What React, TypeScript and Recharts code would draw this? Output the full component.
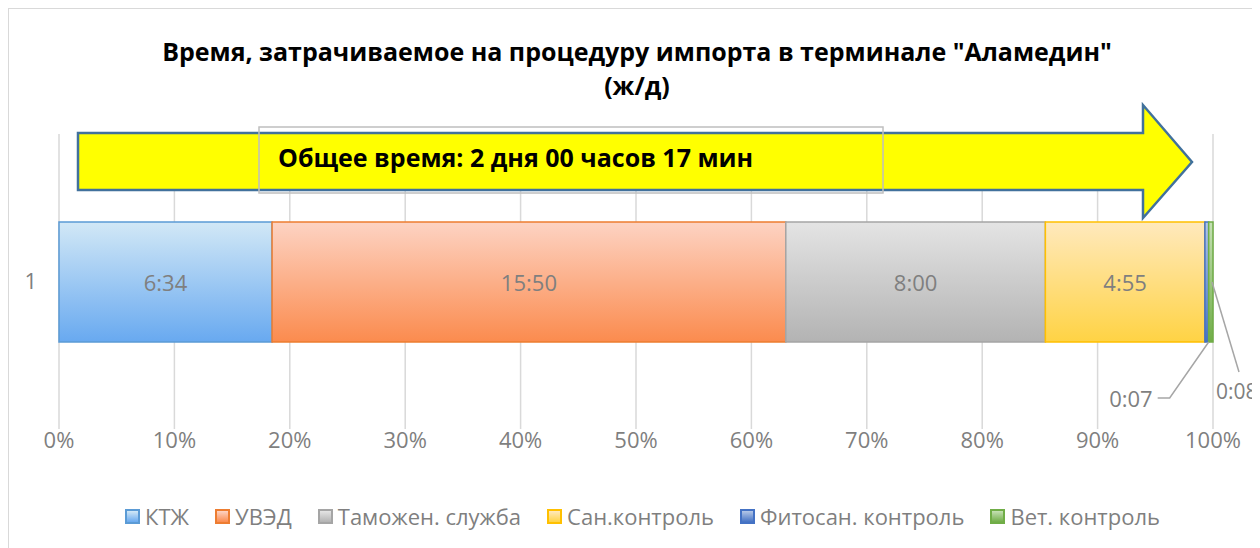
import React from 'react';
import { BarChart, Bar, XAxis, YAxis, CartesianGrid, LabelList } from 'recharts';

const categories = ['1'];
const seriesNames = ['КТЖ', 'УВЭД', 'Таможен. служба', 'Сан.контроль', 'Фитосан. контроль', 'Вет. контроль'];
// minutes per stage (6:34, 15:50, 8:00, 4:55, 0:07, 0:08)
const minutes = [394, 950, 480, 295, 7, 8];
const percentTicks = [0, 0.1, 0.2, 0.3, 0.4, 0.5, 0.6, 0.7, 0.8, 0.9, 1];
const titleLines = ['Время, затрачиваемое на процедуру импорта в терминале "Аламедин"', '(ж/д)'];
const totalText = 'Общее время: 2 дня 00 часов 17 мин';

const strokes = ['#5b9bd5', '#ed7d31', '#a5a5a5', '#ffc000', '#4472c4', '#70ad47'];
const gradTop = ['#d2e8f6', '#fdd3c3', '#e4e4e4', '#ffe9bd', '#b4c7e7', '#c5e0b4'];
const gradBottom = ['#68a9f0', '#fb8b4e', '#b3b3b3', '#ffd344', '#4472c4', '#70ad47'];

const W = 1251;
const H = 539;
const FONT = '"Open Sans", "Noto Sans", sans-serif';
const GREY = '#7f7f7f';

const data = categories.map((name) => {
  const row: Record<string, any> = { name };
  minutes.forEach((m, i) => {
    row['s' + i] = m;
  });
  return row;
});

const fmt = (m: number) => `${Math.floor(m / 60)}:${String(m % 60).padStart(2, '0')}`;

const makeLabel = (i: number) => (props: any) => {
  const x = Number(props.x);
  const y = Number(props.y);
  const w = Number(props.width);
  const h = Number(props.height);
  const txt = fmt(minutes[i]);
  const common = { fontFamily: FONT, fontSize: 22, fill: GREY };
  if (i < 4) {
    return (
      <text x={x + w / 2} y={y + h / 2} textAnchor="middle" dominantBaseline="central" {...common}>
        {txt}
      </text>
    );
  }
  if (i === 4) {
    const ex = x + w;
    const ey = y + h;
    return (
      <g>
        <polyline points={`${ex},${ey} ${ex - 39},${ey + 56} ${ex - 51},${ey + 56}`} fill="none" stroke="#a6a6a6" strokeWidth={1.5} />
        <text x={ex - 56} y={ey + 56} textAnchor="end" dominantBaseline="central" {...common}>
          {txt}
        </text>
      </g>
    );
  }
  // last (tiny) segment: leader line down-right, label squeezed against the edge
  const ex = x + w;
  const cy = y + h / 2;
  return (
    <g>
      <line x1={ex - 1} y1={cy} x2={ex + 26} y2={cy + 90} stroke="#a6a6a6" strokeWidth={1.5} />
      <text x={ex + 3} y={cy + 109} textAnchor="start" dominantBaseline="central" {...common} fontSize={21}>
        {txt}
      </text>
    </g>
  );
};

const LegendBox = () => (
  <div
    style={{
      position: 'absolute',
      top: 493,
      left: 8,
      width: W,
      display: 'flex',
      justifyContent: 'center',
      gap: 26,
      fontFamily: FONT,
      fontSize: 22,
      color: GREY,
      lineHeight: '28px',
    }}
  >
    {seriesNames.map((n, i) => (
      <div key={n} style={{ display: 'flex', alignItems: 'center', gap: 5 }}>
        <span
          style={{
            width: 11,
            height: 11,
            border: `2px solid ${strokes[i]}`,
            background: `linear-gradient(${gradTop[i]}, ${gradBottom[i]})`,
            display: 'inline-block',
          }}
        />
        <span>{n}</span>
      </div>
    ))}
  </div>
);

export default function App() {
  return (
    <div
      style={{
        position: 'relative',
        width: 1252,
        height: 540,
        boxSizing: 'border-box',
        borderLeft: '1px solid #d9d9d9',
        borderTop: '1px solid #d9d9d9',
        overflow: 'hidden',
      }}
    >
      <BarChart
        width={W}
        height={H}
        data={data}
        layout="vertical"
        stackOffset="expand"
        barSize={120}
        margin={{ top: 125, right: 47, bottom: 89, left: 0 }}
      >
        <defs>
          {strokes.map((_, i) => (
            <linearGradient key={i} id={'g' + i} x1="0" y1="0" x2="0" y2="1">
              <stop offset="0%" stopColor={gradTop[i]} />
              <stop offset="100%" stopColor={gradBottom[i]} />
            </linearGradient>
          ))}
        </defs>
        <CartesianGrid horizontal={false} stroke="#d9d9d9" strokeWidth={1.5} />
        <XAxis
          type="number"
          domain={[0, 1]}
          ticks={percentTicks}
          tickFormatter={(v) => `${Math.round(v * 100)}%`}
          axisLine={false}
          tickLine={false}
          tickSize={0}
          tickMargin={3}
          height={30}
          tick={{ fill: GREY, fontSize: 22, fontFamily: FONT }}
        />
        <YAxis
          type="category"
          dataKey="name"
          width={50}
          axisLine={false}
          tickLine={false}
          tickSize={0}
          tickMargin={22}
          tick={{ fill: GREY, fontSize: 22, fontFamily: FONT }}
        />
        {seriesNames.map((n, i) => (
          <Bar
            key={n}
            dataKey={'s' + i}
            name={n}
            stackId="a"
            fill={`url(#g${i})`}
            stroke={strokes[i]}
            strokeWidth={1.5}
            isAnimationActive={false}
          >
            <LabelList content={makeLabel(i)} />
          </Bar>
        ))}
      </BarChart>
      <svg width={W} height={H} style={{ position: 'absolute', left: 0, top: 0, pointerEvents: 'none' }}>
        {titleLines.map((t, i) => (
          <text
            key={i}
            x={628}
            y={52 + i * 34}
            textAnchor="middle"
            fontFamily={FONT}
            fontWeight="bold"
            fontSize={25}
            fill="#000"
          >
            {t}
          </text>
        ))}
        <polygon
          points="69,124 1134,124 1134,96 1183,153 1134,209 1134,181 69,181"
          fill="#ffff00"
          stroke="#41719c"
          strokeWidth={2.5}
        />
        <rect x={250} y={118} width={624} height={66} fill="none" stroke="#bfbfbf" strokeWidth={1.5} />
        <text x={269} y={158} fontFamily={FONT} fontWeight="bold" fontSize={25} fill="#000">
          {totalText}
        </text>
      </svg>
      <LegendBox />
    </div>
  );
}
